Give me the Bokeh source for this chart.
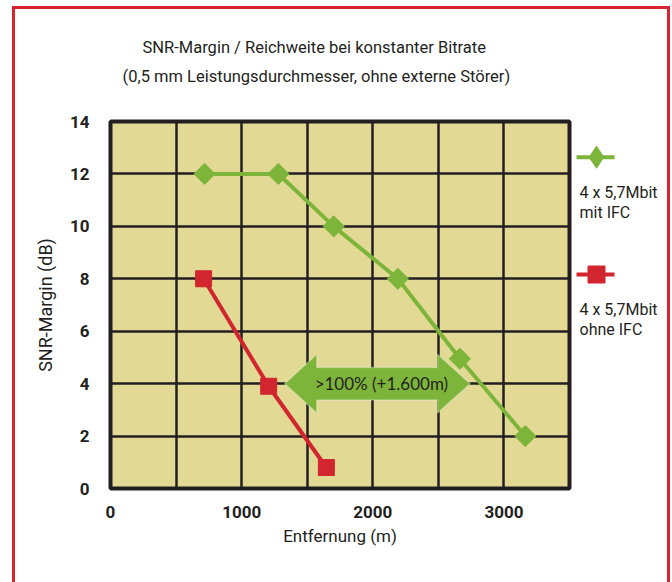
import math
from bokeh.plotting import figure
from bokeh.models import Range1d, FixedTicker, Label, PolyAnnotation, Title, InlineStyleSheet
from bokeh.layouts import row
from bokeh.core.properties import value
from bokeh.embed import file_html
from bokeh.resources import INLINE

# ---- data ----
dist_ifc = [717, 1280, 1702, 2191, 2664, 3163]
snr_ifc = [12.0, 12.0, 10.0, 8.0, 4.95, 2.0]
dist_noifc = [710, 1206, 1646]
snr_noifc = [8.0, 3.9, 0.8]
x_ticks = [0, 1000, 2000, 3000]
x_grid = [500, 1000, 1500, 2000, 2500, 3000]
y_ticks = [0, 2, 4, 6, 8, 10, 12, 14]
y_grid = [2, 4, 6, 8, 10, 12]
legend_lines = [["4 x 5,7Mbit", "mit IFC"], ["4 x 5,7Mbit", "ohne IFC"]]
title_lines = ["SNR-Margin / Reichweite bei konstanter Bitrate",
               "(0,5 mm Leistungsdurchmesser, ohne externe Störer)"]
arrow_text = ">100% (+1.600m)"
arrow_x = [1328, 1573, 2494, 2743]   # tip, head base, head base, tip
arrow_y = 4.0
arrow_shaft = 0.62
arrow_head = 1.12

GREEN = "#7db53a"
RED = "#d1262f"
FRAME_RED = "#d9232e"
DARK = "#231f20"
KHAKI = "#e2d995"
FONT = "Roboto"
W, H = 672, 582
LEG = 100                     # width of the legend strip
FL, FT, FB = 110, 121, 94     # frame borders (left, top, bottom)

# ---- main chart ----
p = figure(width=W - LEG, height=H, output_backend="svg",
           toolbar_location=None, x_range=Range1d(0, 3500), y_range=Range1d(0, 14),
           min_border_left=FL, min_border_right=3,
           min_border_top=FT, min_border_bottom=FB)
p.background_fill_color = KHAKI
p.border_fill_color = "white"
p.outline_line_color = DARK
p.outline_line_width = 4

for ax in (p.xaxis[0], p.yaxis[0]):
    ax.axis_line_color = None
    ax.major_tick_line_color = None
    ax.minor_tick_line_color = None
    ax.major_label_text_font = FONT
    ax.major_label_text_font_style = "bold"
    ax.major_label_text_font_size = "17px"
    ax.major_label_text_color = DARK
    ax.axis_label_text_font = FONT
    ax.axis_label_text_font_style = "normal"
    ax.axis_label_text_color = DARK

p.xaxis.ticker = FixedTicker(ticks=x_ticks)
p.yaxis.ticker = FixedTicker(ticks=y_ticks)
p.xaxis.major_label_standoff = 11
p.yaxis.major_label_standoff = 15
p.xaxis.axis_label = "Entfernung (m)"
p.yaxis.axis_label = "SNR-Margin (dB)"
p.xaxis.axis_label_text_font_size = "17px"
p.yaxis.axis_label_text_font_size = "18px"
p.xaxis.axis_label_standoff = 5
p.yaxis.axis_label_standoff = 11

p.xgrid.ticker = FixedTicker(ticks=x_grid)
p.ygrid.ticker = FixedTicker(ticks=y_grid)
for g in (p.xgrid[0], p.ygrid[0]):
    g.grid_line_color = DARK
    g.grid_line_width = 2.5

p.line(dist_ifc, snr_ifc, line_color=GREEN, line_width=4)
p.scatter(dist_ifc, snr_ifc, marker="square", angle=math.pi / 4, size=15,
          fill_color=GREEN, line_color=GREEN)
p.line(dist_noifc, snr_noifc, line_color=RED, line_width=4)
p.scatter(dist_noifc, snr_noifc, marker="square", size=16,
          fill_color=RED, line_color=RED)

# double arrow annotation
a0, a1, a2, a3 = arrow_x
xs = [a0, a1, a1, a2, a2, a3, a2, a2, a1, a1]
ys = [arrow_y, arrow_y + arrow_head, arrow_y + arrow_shaft, arrow_y + arrow_shaft,
      arrow_y + arrow_head, arrow_y, arrow_y - arrow_head, arrow_y - arrow_shaft,
      arrow_y - arrow_shaft, arrow_y - arrow_head]
p.add_layout(PolyAnnotation(xs=xs, ys=ys, fill_color=GREEN, fill_alpha=1,
                            line_color="white", line_width=1.5))
p.add_layout(Label(x=(a0 + a3) / 2 + 30, y=arrow_y, text=arrow_text,
                   text_align="center", text_baseline="middle",
                   text_font="Lato", text_font_size="17px", text_color=DARK))

# title: spacer nearest the frame, then line 2, then line 1
p.add_layout(Title(text=" ", text_font=FONT, text_font_size="27px", standoff=0), "above")
p.add_layout(Title(text=title_lines[1], align="left", offset=12,
                   text_font=FONT, text_font_size="16.5px",
                   text_font_style="normal", text_color=DARK, standoff=4), "above")
p.add_layout(Title(text=title_lines[0], align="left", offset=32,
                   text_font=FONT, text_font_size="16.5px",
                   text_font_style="normal", text_color=DARK, standoff=12), "above")

# ---- legend strip (page pixel coordinates, frame aligned with main frame) ----
lg = figure(width=LEG, height=H, output_backend="svg", toolbar_location=None,
            x_range=Range1d(W - LEG, W), y_range=Range1d(H - FB, FT),
            x_axis_type=None, y_axis_type=None,
            min_border_left=0, min_border_right=0,
            min_border_top=FT, min_border_bottom=FB)
lg.outline_line_color = None
lg.grid.visible = False
lg.background_fill_color = "white"
lg.border_fill_color = "white"

leg_y = [156.7, 274.0]
leg_colors = [GREEN, RED]
leg_markers = ["diamond", "square"]
leg_sizes = [22, 17]
for cy, col, mk, sz, names in zip(leg_y, leg_colors, leg_markers, leg_sizes, legend_lines):
    lg.segment(x0=[576], y0=[cy], x1=[614], y1=[cy], line_color=col, line_width=4)
    lg.scatter([596], [cy], marker=mk, size=sz, fill_color=col, line_color=col)
    lg.text(x=[579, 579], y=[cy + 35, cy + 55], text=names,
            text_font=value(FONT), text_font_size="16px", text_color=DARK,
            text_align="left", text_baseline="middle")

# red page frame (drawn by the page around both canvases)
frame_css = InlineStyleSheet(css="""
:host::after {
  content: "";
  position: absolute;
  left: 11.5px;
  top: 5.5px;
  width: 658px;
  height: 576.5px;
  border: 3px solid #d9232e;
  border-bottom: none;
  box-sizing: border-box;
  pointer-events: none;
}
""")

layout = row(p, lg, stylesheets=[frame_css])
open("out.html", "w").write(file_html(layout, INLINE))
